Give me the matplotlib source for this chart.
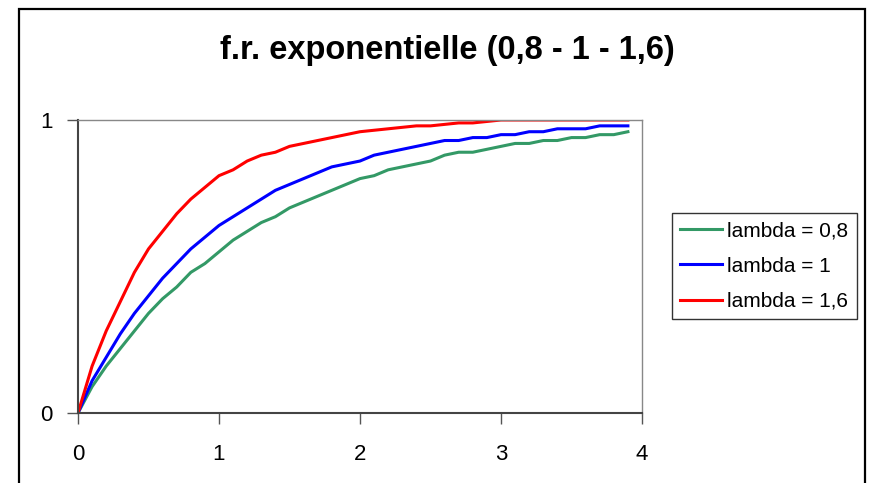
import matplotlib
matplotlib.use("Agg")
import matplotlib.pyplot as plt
from matplotlib.patches import Rectangle

plt.rcParams['font.family'] = ['Liberation Sans', 'DejaVu Sans']

# x values, 0 to 3.9 by 0.1
x = [0.0, 0.1, 0.2, 0.3, 0.4, 0.5, 0.6, 0.7, 0.8, 0.9,
     1.0, 1.1, 1.2, 1.3, 1.4, 1.5, 1.6, 1.7, 1.8, 1.9,
     2.0, 2.1, 2.2, 2.3, 2.4, 2.5, 2.6, 2.7, 2.8, 2.9,
     3.0, 3.1, 3.2, 3.3, 3.4, 3.5, 3.6, 3.7, 3.8, 3.9]

fr_08 = [0.00, 0.09, 0.16, 0.22, 0.28, 0.34, 0.39, 0.43, 0.48, 0.51,
         0.55, 0.59, 0.62, 0.65, 0.67, 0.70, 0.72, 0.74, 0.76, 0.78,
         0.80, 0.81, 0.83, 0.84, 0.85, 0.86, 0.88, 0.89, 0.89, 0.90,
         0.91, 0.92, 0.92, 0.93, 0.93, 0.94, 0.94, 0.95, 0.95, 0.96]

fr_1 = [0.00, 0.11, 0.19, 0.27, 0.34, 0.40, 0.46, 0.51, 0.56, 0.60,
        0.64, 0.67, 0.70, 0.73, 0.76, 0.78, 0.80, 0.82, 0.84, 0.85,
        0.86, 0.88, 0.89, 0.90, 0.91, 0.92, 0.93, 0.93, 0.94, 0.94,
        0.95, 0.95, 0.96, 0.96, 0.97, 0.97, 0.97, 0.98, 0.98, 0.98]

fr_16 = [0.00, 0.16, 0.28, 0.38, 0.48, 0.56, 0.62, 0.68, 0.73, 0.77,
         0.81, 0.83, 0.86, 0.88, 0.89, 0.91, 0.92, 0.93, 0.94, 0.95,
         0.96, 0.965, 0.97, 0.975, 0.98, 0.98, 0.985, 0.99, 0.99, 0.995,
         1.00, 1.00, 1.00, 1.00, 1.00, 1.00, 1.00, 1.00, 1.00, 1.00]

labels = ['lambda = 0,8', 'lambda = 1', 'lambda = 1,6']
colors = ['#339966', '#0000FF', '#FF0000']

fig = plt.figure(figsize=(8.7, 4.83), dpi=100)

# outer chart border
fig.patches.append(Rectangle((19 / 870, -0.05), 846 / 870, 1 - 9 / 483 + 0.05,
                             transform=fig.transFigure, fill=False,
                             edgecolor='black', linewidth=1.6))

ax = fig.add_axes([78 / 870, 1 - 413 / 483, 564 / 870, 293 / 483])

for ys, lab, col in zip([fr_08, fr_1, fr_16], labels, colors):
    ax.plot(x, ys, color=col, linewidth=2.2, label=lab)

ax.set_xlim(0, 4)
ax.set_ylim(0, 1)
ax.set_xticks([0, 1, 2, 3, 4])
ax.set_yticks([0, 1])
ax.tick_params(axis='both', direction='out', length=8, width=1, color='#555555',
               labelsize=16)
ax.tick_params(axis='x', pad=14)
ax.tick_params(axis='y', pad=10)

for side in ['top', 'right']:
    ax.spines[side].set_color('#888888')
    ax.spines[side].set_linewidth(1)
for side in ['left', 'bottom']:
    ax.spines[side].set_color('#444444')
    ax.spines[side].set_linewidth(1.5)

fig.text(447 / 870, 1 - 50 / 483, 'f.r. exponentielle (0,8 - 1 - 1,6)',
         ha='center', va='center', fontsize=23.5, fontweight='bold')

leg = fig.legend(loc='upper left', bbox_to_anchor=(672 / 870, 1 - 213 / 483),
                 fontsize=15, frameon=True, fancybox=False, edgecolor='black',
                 handlelength=2.0, handletextpad=0.25, borderpad=0.4,
                 labelspacing=0.78, borderaxespad=0)
leg.get_frame().set_linewidth(1)

fig.savefig('out.png', dpi=100)
